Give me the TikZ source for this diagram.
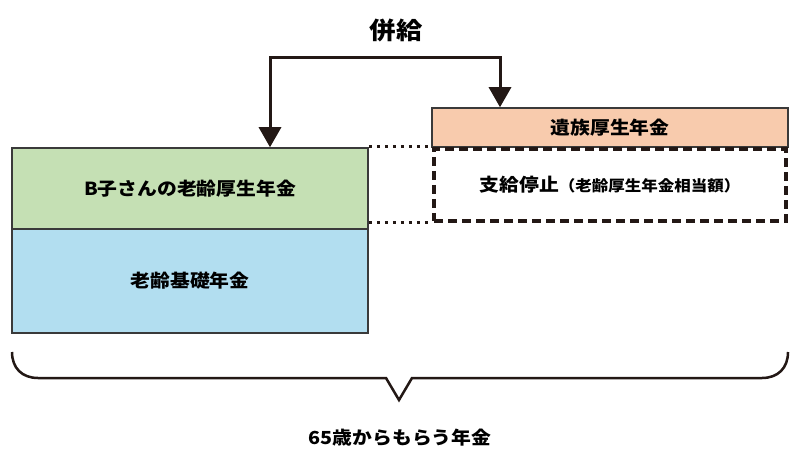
\documentclass[tikz,border=0pt]{standalone}
\usepackage{fontspec}
\setmainfont{Noto Sans CJK JP}[FakeStretch=1.1]
\usepackage{tikz}
\usetikzlibrary{arrows.meta}

\definecolor{ink}{HTML}{231815}
\definecolor{boxline}{HTML}{3A3A3A}
\definecolor{kouseigreen}{HTML}{C5E0B4}
\definecolor{kisoblue}{HTML}{B2DEF0}
\definecolor{izokuorange}{HTML}{F8CBAD}

\begin{document}
\begin{tikzpicture}[x=1pt,y=-1pt]

	\tikzset{nenkin/.style={draw=boxline, line width=1.5pt, minimum width=356pt, inner sep=0pt, font=\bfseries\fontsize{18}{20}\selectfont}}
	\tikzset{heiarrow/.style={ink, line width=3pt, {Triangle[width=22pt,length=20pt]}-{Triangle[width=22pt,length=20pt]}}}

	\useasboundingbox (0,0) rectangle (800,470);

	\node[font=\bfseries\fontsize{24}{26}\selectfont] (heikyu) at (396,30) {併給};

	\node[nenkin, fill=kouseigreen, minimum height=81pt] (kousei) at (190,188.5) {B子さんの老齢厚生年金};
	\node[nenkin, fill=kisoblue, minimum height=104pt] (kiso) at (190,281) {老齢基礎年金};

	\node[nenkin, fill=izokuorange, minimum height=39pt] (izoku) at (610,127.5) {遺族厚生年金};
	\node[draw=ink, line width=4pt, dash pattern=on 9pt off 5pt, minimum width=352pt, minimum height=72pt, inner sep=0pt] (teishi) at (610,185)
		{\bfseries\fontsize{18}{20}\selectfont 支給停止\fontsize{15}{17}\selectfont（老齢厚生年金相当額）};

	% 併給
	\coordinate (la) at (270,58);
	\coordinate (ra) at (500,58);
	\draw[heiarrow] (kousei.north -| la) -- (la) -- (ra) -- (izoku.north -| ra);

	\draw[ink, line width=3pt, dash pattern=on 3pt off 5pt] (teishi.north west -| kousei.east) -- (teishi.north west);
	\draw[ink, line width=3pt, dash pattern=on 3pt off 5pt] (teishi.south west -| kousei.east) -- (teishi.south west);

	% brace
	\coordinate (bl) at (12,352);
	\coordinate (br) at (788,352);
	\coordinate (btip) at (399,400);
	\draw[ink, line width=2.5pt, line join=miter] (bl) .. controls (12,368) and (22,378) .. (38,378) -- (386,378) -- (btip) -- (412,378) -- (762,378) .. controls (778,378) and (788,368) .. (br);

	\node[font=\bfseries\fontsize{18}{20}\selectfont] (moraeru) at (400,438) {65歳からもらう年金};

\end{tikzpicture}
\end{document}
